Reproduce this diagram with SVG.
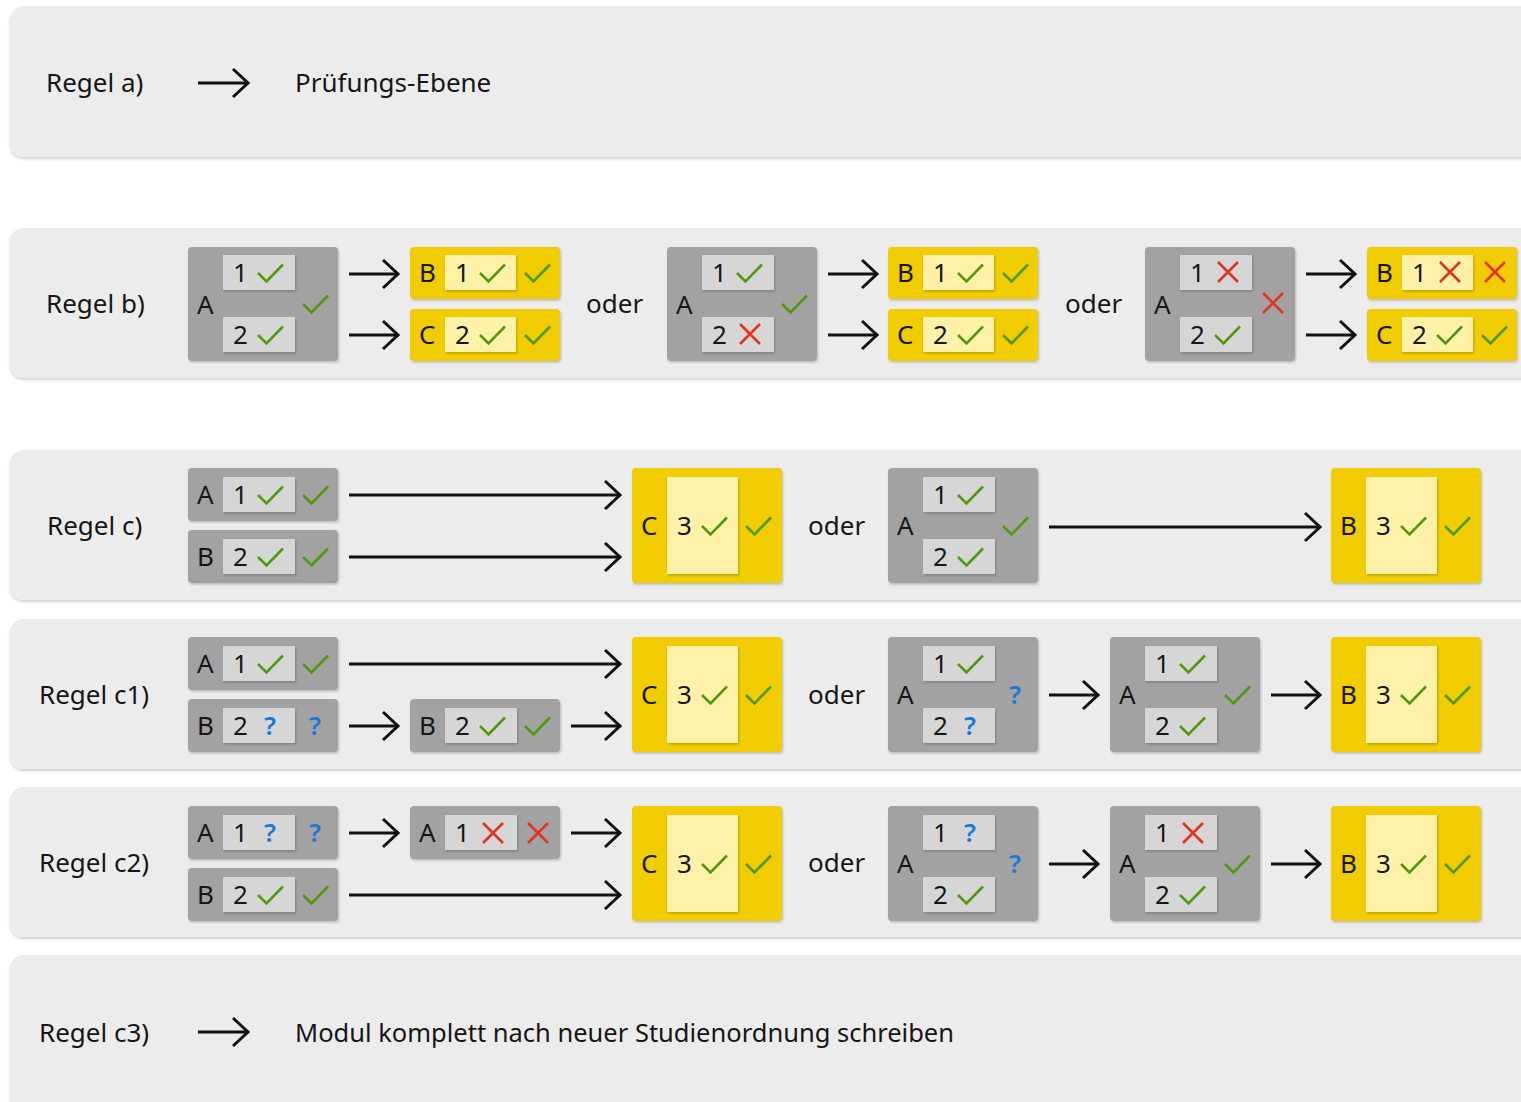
<svg xmlns="http://www.w3.org/2000/svg" xmlns:xlink="http://www.w3.org/1999/xlink" width="1521" height="1102" viewBox="0 0 1521 1102">
<defs>
<style>
.panel{fill:#ececec;filter:url(#ps)}
.gb{fill:#a2a2a2;filter:url(#bs)}
.gi{fill:#d6d6d6;filter:url(#bs)}
.yb{fill:#f0cc00;filter:url(#bs)}
.yi{fill:#fff1a8;filter:url(#bs)}
.t{font-family:"Noto Sans","Open Sans",sans-serif;font-size:26px;fill:#161616}
.q{font-family:"Noto Sans","Open Sans",sans-serif;font-size:26px;font-weight:600;fill:#1b78d4}
.arr{stroke:#111;stroke-width:3;fill:none;marker-end:url(#ah)}
</style>
<filter id="ps" x="-5%" y="-10%" width="110%" height="125%"><feDropShadow dx="0" dy="2" stdDeviation="1.5" flood-color="#000" flood-opacity="0.18"/></filter>
<filter id="bs" x="-10%" y="-10%" width="125%" height="130%"><feDropShadow dx="1" dy="1.5" stdDeviation="1.2" flood-color="#000" flood-opacity="0.22"/></filter>
<marker id="ah" markerUnits="userSpaceOnUse" markerWidth="22" markerHeight="34" refX="17" refY="16" orient="auto"><path d="M2,2 L17,16 L2,30" fill="none" stroke="#111" stroke-width="3"/></marker>
<path id="ck" d="M0,9 L8.5,17.5 L25,0.5" fill="none" stroke="#4f9a0c" stroke-width="2.6"/>
<path id="cx" d="M0,0 L20,20 M20,0 L0,20" fill="none" stroke="#e2331d" stroke-width="2.6"/>
</defs>
<rect width="1521" height="1102" fill="#ffffff"/>

<g id="panels">
<rect class="panel" x="10" y="6" width="1540" height="151" rx="14"/>
<rect class="panel" x="10" y="228" width="1540" height="150" rx="14"/>
<rect class="panel" x="10" y="450" width="1540" height="150" rx="14"/>
<rect class="panel" x="10" y="619" width="1540" height="150" rx="14"/>
<rect class="panel" x="10" y="787" width="1540" height="150" rx="14"/>
<rect class="panel" x="10" y="955" width="1540" height="170" rx="14"/>
</g>

<g id="labels">
<text class="t" x="46" y="92">Regel a)</text>
<text class="t" x="295" y="92">Prüfungs-Ebene</text>
<text class="t" x="46" y="313">Regel b)</text>
<text class="t" x="586" y="313">oder</text>
<text class="t" x="1065" y="313">oder</text>
<text class="t" x="47" y="535">Regel c)</text>
<text class="t" x="808" y="535">oder</text>
<text class="t" x="39" y="704">Regel c1)</text>
<text class="t" x="808" y="704">oder</text>
<text class="t" x="39" y="872">Regel c2)</text>
<text class="t" x="808" y="872">oder</text>
<text class="t" x="39" y="1042">Regel c3)</text>
<text class="t" x="295" y="1042" textLength="659" lengthAdjust="spacingAndGlyphs">Modul komplett nach neuer Studienordnung schreiben</text>
</g>

<g id="connectors">
<line class="arr" x1="198" y1="83" x2="248" y2="83"/>
<line class="arr" x1="198" y1="1032" x2="248" y2="1032"/>
<line class="arr" x1="349" y1="274" x2="398" y2="274"/>
<line class="arr" x1="349" y1="335" x2="398" y2="335"/>
<line class="arr" x1="828" y1="274" x2="877" y2="274"/>
<line class="arr" x1="828" y1="335" x2="877" y2="335"/>
<line class="arr" x1="1306" y1="274" x2="1355" y2="274"/>
<line class="arr" x1="1306" y1="335" x2="1355" y2="335"/>
<line class="arr" x1="349" y1="495" x2="620" y2="495"/>
<line class="arr" x1="349" y1="557" x2="620" y2="557"/>
<line class="arr" x1="1049" y1="527" x2="1320" y2="527"/>
<line class="arr" x1="349" y1="664" x2="620" y2="664"/>
<line class="arr" x1="349" y1="726" x2="398" y2="726"/>
<line class="arr" x1="571" y1="726" x2="620" y2="726"/>
<line class="arr" x1="1049" y1="695" x2="1098" y2="695"/>
<line class="arr" x1="1271" y1="695" x2="1320" y2="695"/>
<line class="arr" x1="349" y1="833" x2="398" y2="833"/>
<line class="arr" x1="571" y1="833" x2="620" y2="833"/>
<line class="arr" x1="349" y1="895" x2="620" y2="895"/>
<line class="arr" x1="1049" y1="864" x2="1098" y2="864"/>
<line class="arr" x1="1271" y1="864" x2="1320" y2="864"/>
</g>

<!-- Regel b -->
<g id="b1-A">
<rect class="gb" x="188" y="247" width="150" height="114" rx="4"/>
<text class="t" x="197" y="314">A</text>
<rect class="gi" x="223" y="255" width="72" height="35"/>
<text class="t" x="233" y="282">1</text><use href="#ck" x="258" y="264"/>
<rect class="gi" x="223" y="317" width="72" height="35"/>
<text class="t" x="233" y="344">2</text><use href="#ck" x="258" y="326"/>
<use href="#ck" x="303" y="295"/>
</g>
<g id="b1-B">
<rect class="yb" x="410" y="247" width="150" height="52" rx="4"/>
<text class="t" x="419" y="282">B</text>
<rect class="yi" x="445" y="255" width="71" height="35"/>
<text class="t" x="455" y="282">1</text><use href="#ck" x="480" y="264"/>
<use href="#ck" x="525" y="264"/>
</g>
<g id="b1-C">
<rect class="yb" x="410" y="309" width="150" height="52" rx="4"/>
<text class="t" x="419" y="344">C</text>
<rect class="yi" x="445" y="317" width="71" height="35"/>
<text class="t" x="455" y="344">2</text><use href="#ck" x="480" y="326"/>
<use href="#ck" x="525" y="326"/>
</g>

<g id="b2-A">
<rect class="gb" x="667" y="247" width="150" height="114" rx="4"/>
<text class="t" x="676" y="314">A</text>
<rect class="gi" x="702" y="255" width="72" height="35"/>
<text class="t" x="712" y="282">1</text><use href="#ck" x="737" y="264"/>
<rect class="gi" x="702" y="317" width="72" height="35"/>
<text class="t" x="712" y="344">2</text><use href="#cx" x="740" y="324"/>
<use href="#ck" x="782" y="295"/>
</g>
<g id="b2-B">
<rect class="yb" x="888" y="247" width="150" height="52" rx="4"/>
<text class="t" x="897" y="282">B</text>
<rect class="yi" x="923" y="255" width="71" height="35"/>
<text class="t" x="933" y="282">1</text><use href="#ck" x="958" y="264"/>
<use href="#ck" x="1003" y="264"/>
</g>
<g id="b2-C">
<rect class="yb" x="888" y="309" width="150" height="52" rx="4"/>
<text class="t" x="897" y="344">C</text>
<rect class="yi" x="923" y="317" width="71" height="35"/>
<text class="t" x="933" y="344">2</text><use href="#ck" x="958" y="326"/>
<use href="#ck" x="1003" y="326"/>
</g>

<g id="b3-A">
<rect class="gb" x="1145" y="247" width="150" height="114" rx="4"/>
<text class="t" x="1154" y="314">A</text>
<rect class="gi" x="1180" y="255" width="72" height="35"/>
<text class="t" x="1190" y="282">1</text><use href="#cx" x="1218" y="262"/>
<rect class="gi" x="1180" y="317" width="72" height="35"/>
<text class="t" x="1190" y="344">2</text><use href="#ck" x="1215" y="326"/>
<use href="#cx" x="1263" y="293"/>
</g>
<g id="b3-B">
<rect class="yb" x="1367" y="247" width="150" height="52" rx="4"/>
<text class="t" x="1376" y="282">B</text>
<rect class="yi" x="1402" y="255" width="71" height="35"/>
<text class="t" x="1412" y="282">1</text><use href="#cx" x="1440" y="262"/>
<use href="#cx" x="1485" y="262"/>
</g>
<g id="b3-C">
<rect class="yb" x="1367" y="309" width="150" height="52" rx="4"/>
<text class="t" x="1376" y="344">C</text>
<rect class="yi" x="1402" y="317" width="71" height="35"/>
<text class="t" x="1412" y="344">2</text><use href="#ck" x="1437" y="326"/>
<use href="#ck" x="1482" y="326"/>
</g>

<!-- Regel c -->
<g id="c-A">
<rect class="gb" x="188" y="468" width="150" height="53" rx="4"/>
<text class="t" x="197" y="504">A</text>
<rect class="gi" x="223" y="477" width="72" height="35"/>
<text class="t" x="233" y="504">1</text><use href="#ck" x="258" y="486"/>
<use href="#ck" x="303" y="486"/>
</g>
<g id="c-B">
<rect class="gb" x="188" y="530" width="150" height="53" rx="4"/>
<text class="t" x="197" y="566">B</text>
<rect class="gi" x="223" y="539" width="72" height="35"/>
<text class="t" x="233" y="566">2</text><use href="#ck" x="258" y="548"/>
<use href="#ck" x="303" y="548"/>
</g>
<g id="c-C">
<rect class="yb" x="632" y="468" width="150" height="115" rx="4"/>
<text class="t" x="641" y="535">C</text>
<rect class="yi" x="667" y="477" width="71" height="97"/>
<text class="t" x="677" y="535">3</text><use href="#ck" x="702" y="517"/>
<use href="#ck" x="746" y="517"/>
</g>
<g id="c-A2">
<rect class="gb" x="888" y="468" width="150" height="115" rx="4"/>
<text class="t" x="897" y="535">A</text>
<rect class="gi" x="923" y="477" width="72" height="35"/>
<text class="t" x="933" y="504">1</text><use href="#ck" x="958" y="486"/>
<rect class="gi" x="923" y="539" width="72" height="35"/>
<text class="t" x="933" y="566">2</text><use href="#ck" x="958" y="548"/>
<use href="#ck" x="1003" y="517"/>
</g>
<g id="c-B2">
<rect class="yb" x="1331" y="468" width="150" height="115" rx="4"/>
<text class="t" x="1340" y="535">B</text>
<rect class="yi" x="1366" y="477" width="71" height="97"/>
<text class="t" x="1376" y="535">3</text><use href="#ck" x="1401" y="517"/>
<use href="#ck" x="1445" y="517"/>
</g>

<!-- Regel c1 -->
<g id="c1-A">
<rect class="gb" x="188" y="637" width="150" height="53" rx="4"/>
<text class="t" x="197" y="673">A</text>
<rect class="gi" x="223" y="646" width="72" height="35"/>
<text class="t" x="233" y="673">1</text><use href="#ck" x="258" y="655"/>
<use href="#ck" x="303" y="655"/>
</g>
<g id="c1-B">
<rect class="gb" x="188" y="699" width="150" height="53" rx="4"/>
<text class="t" x="197" y="735">B</text>
<rect class="gi" x="223" y="708" width="72" height="35"/>
<text class="t" x="233" y="735">2</text><text class="q" x="264" y="735">?</text>
<text class="q" x="309" y="735">?</text>
</g>
<g id="c1-B2">
<rect class="gb" x="410" y="699" width="150" height="53" rx="4"/>
<text class="t" x="419" y="735">B</text>
<rect class="gi" x="445" y="708" width="72" height="35"/>
<text class="t" x="455" y="735">2</text><use href="#ck" x="480" y="717"/>
<use href="#ck" x="525" y="717"/>
</g>
<g id="c1-C">
<rect class="yb" x="632" y="637" width="150" height="115" rx="4"/>
<text class="t" x="641" y="704">C</text>
<rect class="yi" x="667" y="646" width="71" height="97"/>
<text class="t" x="677" y="704">3</text><use href="#ck" x="702" y="686"/>
<use href="#ck" x="746" y="686"/>
</g>
<g id="c1-A2">
<rect class="gb" x="888" y="637" width="150" height="115" rx="4"/>
<text class="t" x="897" y="704">A</text>
<rect class="gi" x="923" y="646" width="72" height="35"/>
<text class="t" x="933" y="673">1</text><use href="#ck" x="958" y="655"/>
<rect class="gi" x="923" y="708" width="72" height="35"/>
<text class="t" x="933" y="735">2</text><text class="q" x="964" y="735">?</text>
<text class="q" x="1009" y="704">?</text>
</g>
<g id="c1-A3">
<rect class="gb" x="1110" y="637" width="150" height="115" rx="4"/>
<text class="t" x="1119" y="704">A</text>
<rect class="gi" x="1145" y="646" width="72" height="35"/>
<text class="t" x="1155" y="673">1</text><use href="#ck" x="1180" y="655"/>
<rect class="gi" x="1145" y="708" width="72" height="35"/>
<text class="t" x="1155" y="735">2</text><use href="#ck" x="1180" y="717"/>
<use href="#ck" x="1225" y="686"/>
</g>
<g id="c1-B3">
<rect class="yb" x="1331" y="637" width="150" height="115" rx="4"/>
<text class="t" x="1340" y="704">B</text>
<rect class="yi" x="1366" y="646" width="71" height="97"/>
<text class="t" x="1376" y="704">3</text><use href="#ck" x="1401" y="686"/>
<use href="#ck" x="1445" y="686"/>
</g>

<!-- Regel c2 -->
<g id="c2-A">
<rect class="gb" x="188" y="806" width="150" height="53" rx="4"/>
<text class="t" x="197" y="842">A</text>
<rect class="gi" x="223" y="815" width="72" height="35"/>
<text class="t" x="233" y="842">1</text><text class="q" x="264" y="842">?</text>
<text class="q" x="309" y="842">?</text>
</g>
<g id="c2-A2">
<rect class="gb" x="410" y="806" width="150" height="53" rx="4"/>
<text class="t" x="419" y="842">A</text>
<rect class="gi" x="445" y="815" width="72" height="35"/>
<text class="t" x="455" y="842">1</text><use href="#cx" x="483" y="823"/>
<use href="#cx" x="528" y="823"/>
</g>
<g id="c2-B">
<rect class="gb" x="188" y="868" width="150" height="53" rx="4"/>
<text class="t" x="197" y="904">B</text>
<rect class="gi" x="223" y="877" width="72" height="35"/>
<text class="t" x="233" y="904">2</text><use href="#ck" x="258" y="886"/>
<use href="#ck" x="303" y="886"/>
</g>
<g id="c2-C">
<rect class="yb" x="632" y="806" width="150" height="115" rx="4"/>
<text class="t" x="641" y="873">C</text>
<rect class="yi" x="667" y="815" width="71" height="97"/>
<text class="t" x="677" y="873">3</text><use href="#ck" x="702" y="855"/>
<use href="#ck" x="746" y="855"/>
</g>
<g id="c2-A3">
<rect class="gb" x="888" y="806" width="150" height="115" rx="4"/>
<text class="t" x="897" y="873">A</text>
<rect class="gi" x="923" y="815" width="72" height="35"/>
<text class="t" x="933" y="842">1</text><text class="q" x="964" y="842">?</text>
<rect class="gi" x="923" y="877" width="72" height="35"/>
<text class="t" x="933" y="904">2</text><use href="#ck" x="958" y="886"/>
<text class="q" x="1009" y="873">?</text>
</g>
<g id="c2-A4">
<rect class="gb" x="1110" y="806" width="150" height="115" rx="4"/>
<text class="t" x="1119" y="873">A</text>
<rect class="gi" x="1145" y="815" width="72" height="35"/>
<text class="t" x="1155" y="842">1</text><use href="#cx" x="1183" y="823"/>
<rect class="gi" x="1145" y="877" width="72" height="35"/>
<text class="t" x="1155" y="904">2</text><use href="#ck" x="1180" y="886"/>
<use href="#ck" x="1225" y="855"/>
</g>
<g id="c2-B2">
<rect class="yb" x="1331" y="806" width="150" height="115" rx="4"/>
<text class="t" x="1340" y="873">B</text>
<rect class="yi" x="1366" y="815" width="71" height="97"/>
<text class="t" x="1376" y="873">3</text><use href="#ck" x="1401" y="855"/>
<use href="#ck" x="1445" y="855"/>
</g>
</svg>
